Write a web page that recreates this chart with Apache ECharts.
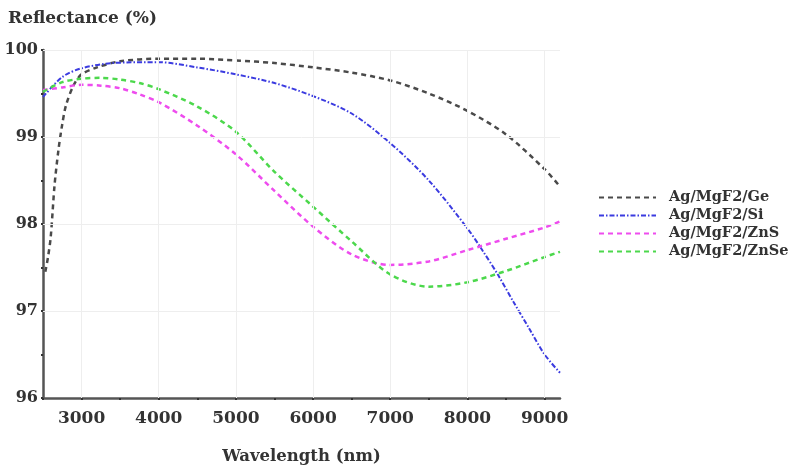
<!DOCTYPE html>
<html><head><meta charset="utf-8">
<script src="https://cdn.jsdelivr.net/npm/echarts@6/dist/echarts.min.js"></script>
<style>html,body{margin:0;padding:0;background:#fff}#c{width:796px;height:473px}</style>
</head><body><div id="c"></div>
<script>
const seriesNames = ['Ag/MgF2/Ge', 'Ag/MgF2/Si', 'Ag/MgF2/ZnS', 'Ag/MgF2/ZnSe'];
const geX = [2530, 2565, 2600, 2650, 2700, 2750, 2800, 2900, 3000, 3200, 3500, 4000, 4500, 5000, 5500, 6000, 6500, 7000, 7500, 8000, 8500, 9000, 9200];
const geY = [97.45, 97.62, 97.85, 98.45, 98.85, 99.15, 99.37, 99.6, 99.72, 99.8, 99.87, 99.9, 99.9, 99.88, 99.85, 99.8, 99.74, 99.65, 99.5, 99.3, 99.03, 98.63, 98.43];
const siX = [2500, 2750, 3000, 3400, 4000, 4500, 5000, 5500, 6000, 6500, 7000, 7500, 8000, 8200, 8400, 8600, 8800, 9000, 9200];
const siY = [99.46, 99.69, 99.79, 99.85, 99.86, 99.8, 99.72, 99.62, 99.47, 99.27, 98.93, 98.5, 97.95, 97.69, 97.41, 97.1, 96.8, 96.5, 96.29];
const znX = [2500, 2750, 3000, 3250, 3500, 3750, 4000, 4500, 5000, 5500, 6000, 6500, 7000, 7500, 8000, 8500, 9000, 9200];
const znsY = [99.54, 99.57, 99.6, 99.59, 99.56, 99.49, 99.4, 99.13, 98.8, 98.38, 97.97, 97.65, 97.53, 97.57, 97.7, 97.83, 97.96, 98.03];
const znseY = [99.52, 99.63, 99.67, 99.68, 99.66, 99.62, 99.55, 99.35, 99.06, 98.6, 98.2, 97.8, 97.42, 97.28, 97.33, 97.46, 97.62, 97.68];
const xGridLines = [3000, 4000, 5000, 6000, 7000, 8000, 9000];
const yGridLines = [97, 98, 99, 100];

const font = '"DejaVu Serif", "Liberation Serif", serif';
const pair = (xs, ys) => xs.map((x, i) => [x, ys[i]]);
const mk = (name, xs, ys, color, dash, width) => ({
  name, type: 'line', data: pair(xs, ys), smooth: 0.3, symbol: 'none',
  lineStyle: { color, width, type: dash }, itemStyle: { color }
});

const series = [
  mk(seriesNames[0], geX, geY, '#4a4a4a', [5, 4], 2.5),
  mk(seriesNames[1], siX, siY, '#3b3be0', [5, 2, 1.5, 2], 2),
  mk(seriesNames[2], znX, znsY, '#ee4cee', [5, 4], 2.5),
  mk(seriesNames[3], znX, znseY, '#4cd84c', [5, 4], 2.5)
];
series.push({
  type: 'line', data: [], silent: true,
  markLine: {
    silent: true, symbol: 'none', label: { show: false },
    lineStyle: { color: '#eeeeee', width: 1, type: 'solid' },
    data: xGridLines.map(v => ({ xAxis: v })).concat(yGridLines.map(v => ({ yAxis: v })))
  }
});

const chart = echarts.init(document.getElementById('c'));
chart.setOption({
  animation: false,
  backgroundColor: '#fff',
  title: {
    text: 'Reflectance (%)', left: 3, top: 5,
    textStyle: { fontFamily: font, fontWeight: 'bold', fontSize: 17, color: '#333' }
  },
  legend: {
    orient: 'vertical', left: 593, top: 185, itemWidth: 57, itemHeight: 14, itemGap: 3,
    data: seriesNames,
    itemStyle: { opacity: 0 },
    textStyle: { fontFamily: font, fontWeight: 'bold', fontSize: 14.5, color: '#333', padding: [0, 0, 0, 8] }
  },
  grid: { left: 43, top: 50, width: 517, height: 348 },
  xAxis: {
    type: 'value', min: 2500, max: 9200, interval: 500,
    name: 'Wavelength (nm)', nameLocation: 'middle', nameGap: 50,
    nameTextStyle: { fontFamily: font, fontWeight: 'bold', fontSize: 16.5, color: '#333' },
    axisLine: { lineStyle: { color: '#555', width: 2.5 } },
    axisTick: { show: true, inside: false, length: 2, lineStyle: { color: '#333', width: 2 } },
    splitLine: { show: false },
    axisLabel: {
      fontFamily: font, fontWeight: 'bold', fontSize: 17, color: '#333', margin: 12,
      showMaxLabel: false,
      formatter: v => (v % 1000 === 0 ? String(v) : '')
    }
  },
  yAxis: {
    type: 'value', min: 96, max: 100, interval: 0.5,
    axisLine: { show: true, lineStyle: { color: '#555', width: 2.5 } },
    axisTick: { show: true, length: 2, lineStyle: { color: '#333', width: 2 } },
    splitLine: { show: false },
    axisLabel: {
      fontFamily: font, fontWeight: 'bold', fontSize: 16, color: '#333', margin: 5,
      formatter: v => (Math.abs(v - Math.round(v)) < 1e-6 ? String(Math.round(v)) : '')
    }
  },
  series
});
</script></body></html>
